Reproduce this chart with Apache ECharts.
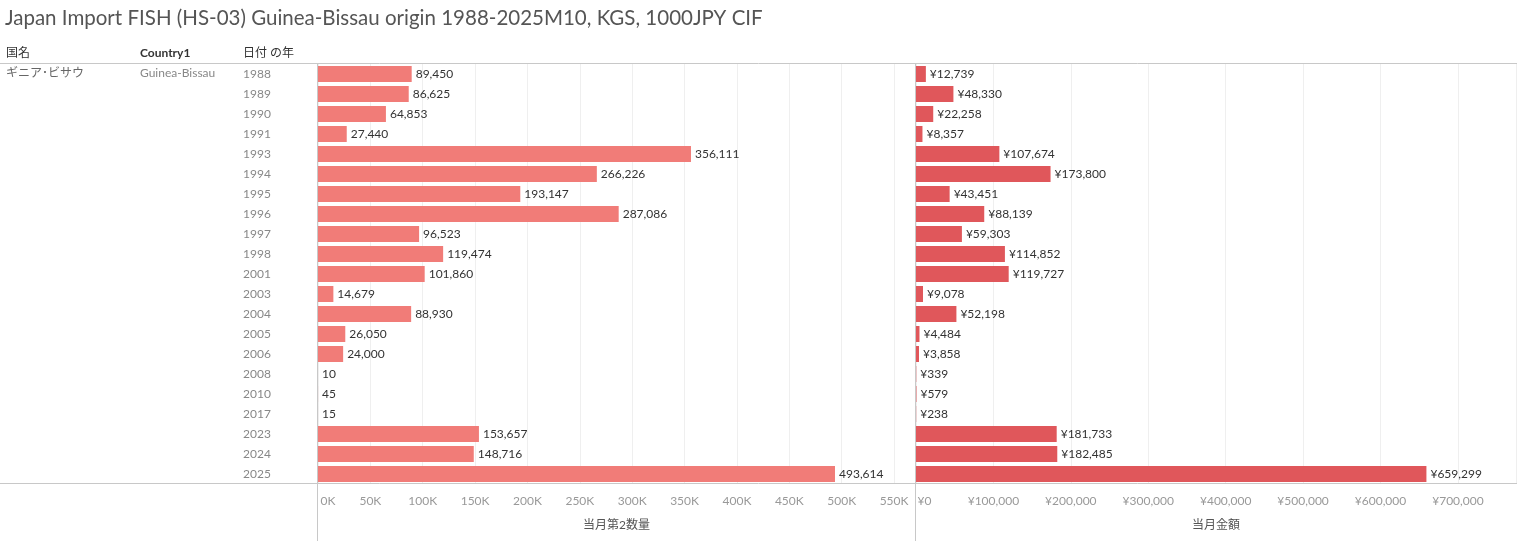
<!DOCTYPE html>
<html><head><meta charset="utf-8">
<script src="https://cdn.jsdelivr.net/npm/echarts@6/dist/echarts.min.js"></script>
<style>html,body{margin:0;padding:0;background:#fff}#c{width:1517px;height:541px}</style>
</head><body><div id="c"></div>
<script>
const years = ['1988','1989','1990','1991','1993','1994','1995','1996','1997','1998','2001','2003','2004','2005','2006','2008','2010','2017','2023','2024','2025'];
const quantity = [89450,86625,64853,27440,356111,266226,193147,287086,96523,119474,101860,14679,88930,26050,24000,10,45,15,153657,148716,493614];
const amount = [12739,48330,22258,8357,107674,173800,43451,88139,59303,114852,119727,9078,52198,4484,3858,339,579,238,181733,182485,659299];
const countryJa = 'ギニア･ビサウ';
const countryEn = 'Guinea-Bissau';
const titleText = 'Japan Import FISH (HS-03) Guinea-Bissau origin 1988-2025M10, KGS, 1000JPY CIF';

const FONT = 'Lato, "Noto Sans", "Noto Sans CJK JP", sans-serif';
const fmt = v => v.toLocaleString('en-US');
const chart = echarts.init(document.getElementById('c'));
const lineStyle = {stroke:'#c8c8c8', lineWidth:1};
chart.setOption({
  animation:false,
  textStyle:{fontFamily:FONT},
  graphic:[
    {type:'text', left:5, top:8, style:{text:titleText, fontSize:20.5, fill:'#555', fontFamily:FONT}},
    {type:'text', left:6, top:47, style:{text:'国名', fontSize:12, fill:'#333', fontFamily:FONT}},
    {type:'text', left:140, top:47, style:{text:'Country1', fontSize:12, fill:'#333', fontWeight:'bold', fontFamily:FONT}},
    {type:'text', left:243, top:47, style:{text:'日付 の年', fontSize:12, fill:'#333', fontFamily:FONT}},
    {type:'text', left:6, top:67, style:{text:countryJa, fontSize:12, fill:'#666', fontFamily:FONT}},
    {type:'text', left:140, top:67, style:{text:countryEn, fontSize:12, fill:'#888', fontFamily:FONT}},
    {type:'line', shape:{x1:0,y1:63.5,x2:1517,y2:63.5}, style:lineStyle, z:10},
    {type:'line', shape:{x1:0,y1:483.5,x2:1517,y2:483.5}, style:lineStyle, z:10},
    {type:'line', shape:{x1:317.5,y1:63,x2:317.5,y2:541}, style:lineStyle, z:10},
    {type:'line', shape:{x1:915.5,y1:63,x2:915.5,y2:541}, style:lineStyle, z:10}
  ],
  grid:[
    {left:318, right:602, top:64, bottom:57},
    {left:916, right:1, top:64, bottom:57}
  ],
  xAxis:[
    {gridIndex:0, type:'value', min:0, max:570000, interval:50000,
     axisLine:{show:false}, axisTick:{show:false},
     splitLine:{lineStyle:{color:'#efefef'}},
     axisLabel:{showMaxLabel:false, margin:11, color:'#999', fontSize:12,
       formatter:v => v===0 ? '{a|0K}' : (v/1000)+'K',
       rich:{a:{padding:[0,0,0,20], color:'#999', fontSize:12}}},
     name:'当月第2数量', nameLocation:'middle', nameGap:35,
     nameTextStyle:{color:'#555', fontSize:12}},
    {gridIndex:1, type:'value', min:0, max:775000, interval:100000,
     axisLine:{show:false}, axisTick:{show:false},
     splitLine:{lineStyle:{color:'#efefef'}},
     axisLabel:{showMaxLabel:false, margin:11, color:'#999', fontSize:12,
       formatter:v => v===0 ? '{a|¥0}' : '¥'+fmt(v),
       rich:{a:{padding:[0,0,0,17], color:'#999', fontSize:12}}},
     name:'当月金額', nameLocation:'middle', nameGap:35,
     nameTextStyle:{color:'#555', fontSize:12}}
  ],
  yAxis:[
    {gridIndex:0, type:'category', data:years, inverse:true,
     axisLine:{show:false}, axisTick:{show:false},
     axisLabel:{align:'left', margin:75, color:'#888', fontSize:12}},
    {gridIndex:1, type:'category', data:years, inverse:true,
     axisLine:{show:false}, axisTick:{show:false}, axisLabel:{show:false}}
  ],
  series:[
    {type:'bar', xAxisIndex:0, yAxisIndex:0, data:quantity, barWidth:16,
     itemStyle:{color:'#F17C78'},
     label:{show:true, position:'right', distance:4, color:'#333', fontSize:12, formatter:p=>fmt(p.value)}},
    {type:'bar', xAxisIndex:1, yAxisIndex:1, data:amount, barWidth:16,
     itemStyle:{color:'#E0575B'},
     label:{show:true, position:'right', distance:4, color:'#333', fontSize:12, formatter:p=>'¥'+fmt(p.value)}}
  ]
});
</script></body></html>
